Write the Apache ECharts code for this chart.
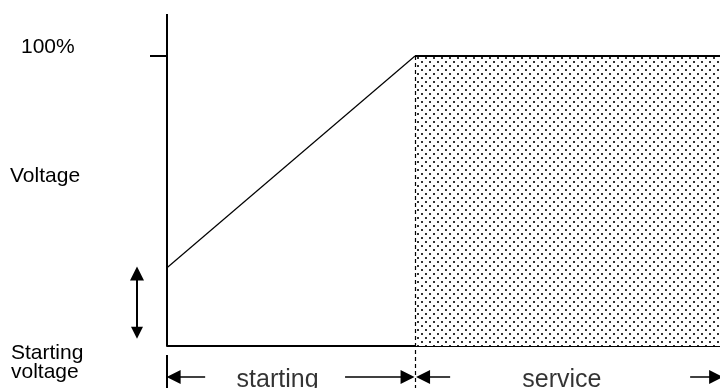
<!DOCTYPE html>
<html><head><meta charset="utf-8">
<script src="https://cdn.jsdelivr.net/npm/echarts@6/dist/echarts.min.js"></script>
<style>html,body{margin:0;padding:0;background:#fff}#c{width:720px;height:388px}</style>
</head><body><div id="c"></div>
<script>
// ---- data ----
const startingVoltage = 27;      // % of full voltage at start
const fullVoltage = 100;         // %
const startingEnd = 44.85;       // time where starting phase ends (% of span)
const timeEnd = 100;
const rampData = [[0, startingVoltage], [startingEnd, fullVoltage]];
const serviceData = [[startingEnd, fullVoltage], [timeEnd, fullVoltage]];
const yTickLabels = ['100%'];
const phaseLabels = ['starting', 'service'];
const yLabels = ['Voltage', 'Starting\nvoltage'];

// ---- pattern ----
const pc = document.createElement('canvas');
pc.width = 8; pc.height = 8;
const pctx = pc.getContext('2d');
pctx.fillStyle = '#fff'; pctx.fillRect(0, 0, 8, 8);
pctx.fillStyle = '#333';
pctx.fillRect(1, 1, 2, 2);
pctx.fillRect(5, 5, 2, 2);

const yMin = -14.48, yMax = 114.48;
const annY = -10.7;
const font = 'Liberation Sans, Arial, sans-serif';
const chart = echarts.init(document.getElementById('c'));
chart.setOption({
  animation: false,
  grid: {left: 167, right: 0, top: 14, bottom: 0, containLabel: false},
  xAxis: {type: 'value', min: 0, max: timeEnd, axisLine: {show: true, onZero: true, lineStyle: {color: '#000', width: 2}},
    axisTick: {show: false}, axisLabel: {show: false}, splitLine: {show: false}},
  yAxis: {type: 'value', min: yMin, max: yMax, axisLine: {show: false},
    axisTick: {show: true, customValues: [fullVoltage], length: 17, lineStyle: {color: '#000', width: 2}},
    axisLabel: {show: false}, splitLine: {show: false}},
  graphic: [
    {type: 'text', left: 21, top: 37, style: {text: yTickLabels[0], font: '21px ' + font, fill: '#000'}},
    {type: 'text', left: 10, top: 166, style: {text: yLabels[0], font: '21px ' + font, fill: '#000'}},
    {type: 'text', left: 11, top: 343, style: {text: yLabels[1], font: '21px ' + font, fill: '#000', lineHeight: 19}}
  ],
  series: [
    {type: 'line', data: serviceData, symbol: 'none', lineStyle: {color: '#000', width: 2},
      areaStyle: {color: {image: pc, repeat: 'repeat'}, opacity: 1, origin: 0}, z: 2},
    {type: 'line', data: rampData, symbol: 'none', lineStyle: {color: '#000', width: 1.2}, z: 3},
    // y axis line
    {type: 'lines', coordinateSystem: 'cartesian2d', clip: false, symbol: 'none', z: 4,
      lineStyle: {color: '#000', width: 2, opacity: 1},
      data: [{coords: [[0, 0], [0, yMax]]}, {coords: [[0, -3.1], [0, yMin]]}]},
    // dashed divider
    {type: 'lines', coordinateSystem: 'cartesian2d', clip: false, symbol: 'none', z: 4,
      lineStyle: {color: '#000', width: 1.2, type: [4, 3], opacity: 1},
      data: [{coords: [[startingEnd, fullVoltage], [startingEnd, yMin]]}]},
    // bottom arrows
    {type: 'lines', coordinateSystem: 'cartesian2d', clip: false, symbol: ['none', 'triangle'], symbolSize: [12, 14], z: 5,
      lineStyle: {color: '#000', width: 1.5, opacity: 1},
      data: [
        {coords: [[6.9, annY], [1.2, annY]]},
        {coords: [[32.2, annY], [43.5, annY]]},
        {coords: [[51.2, annY], [46.3, annY]]},
        {coords: [[94.6, annY], [99.3, annY]]}
      ]},
    // vertical double arrow (starting voltage)
    {type: 'lines', coordinateSystem: 'cartesian2d', clip: false, symbol: ['triangle', 'triangle'], symbolSize: [12, 14], z: 5,
      lineStyle: {color: '#000', width: 2, opacity: 1},
      data: [{coords: [[-5.42, 4.6], [-5.42, 25.0]]}]},
    // phase labels
    {type: 'scatter', symbolSize: 0, clip: false, z: 6,
      label: {show: true, position: 'inside', formatter: p => p.name, color: '#000', fontSize: 25, fontFamily: font},
      data: [{name: phaseLabels[0], value: [20, -11.8]}, {name: phaseLabels[1], value: [71.4, -11.8]}]}
  ]
});
</script></body></html>
